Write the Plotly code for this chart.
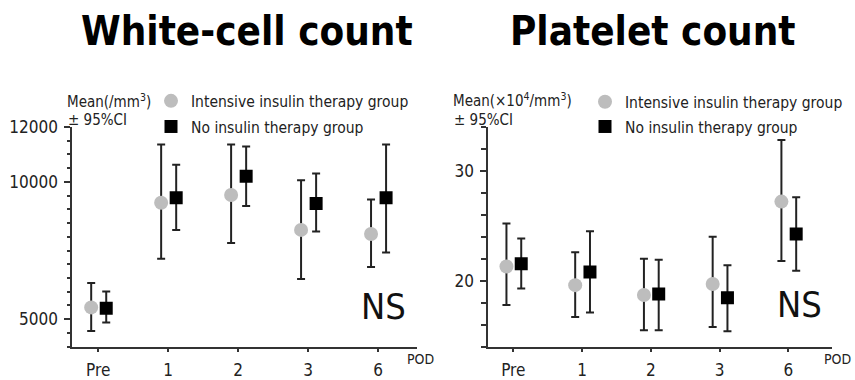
import plotly.graph_objects as go

# ---------------- data ----------------
categories = ["Pre", "1", "2", "3", "6"]
series_names = ["Intensive insulin therapy group", "No insulin therapy group"]

# White-cell count (/mm3): mean, upper 95%CI, lower 95%CI
wbc_int_mean = [5430, 9240, 9520, 8250, 8100]
wbc_int_up = [6320, 11360, 11360, 10060, 9360]
wbc_int_lo = [4570, 7200, 7770, 6460, 6900]
wbc_no_mean = [5400, 9420, 10200, 9210, 9420]
wbc_no_up = [6010, 10620, 11290, 10300, 11360]
wbc_no_lo = [4880, 8250, 9120, 8190, 7430]

# Platelet count (x10^4/mm3)
plt_int_mean = [21.3, 19.6, 18.7, 19.7, 27.2]
plt_int_up = [25.2, 22.6, 22.0, 24.0, 32.8]
plt_int_lo = [17.8, 16.7, 15.5, 15.8, 21.8]
plt_no_mean = [21.55, 20.8, 18.8, 18.45, 24.25]
plt_no_up = [23.85, 24.5, 21.9, 21.4, 27.6]
plt_no_lo = [19.3, 17.1, 15.5, 15.4, 20.9]

wbc_tickvals = [5000, 10000, 12000]
wbc_ticktext = ["5000", "10000", "12000"]
plt_tickvals = [20, 30]
plt_ticktext = ["20", "30"]

# ---------------- style ----------------
FONT = "DejaVu Sans Condensed, DejaVu Sans, sans-serif"
GREY = "#bdbdbd"
BLACK = "#000000"
BAR = "#222222"
AXIS = "#333333"
OFF_INT, OFF_NO = -0.10, 0.115

fig = go.Figure()


def add_pair(xa, ya, im, iu, il, nm, nu, nl, leg_a, leg_b):
    idx = list(range(len(categories)))
    fig.add_trace(go.Scatter(
        x=[i + OFF_INT for i in idx], y=im, mode="markers", name=series_names[0],
        xaxis=xa, yaxis=ya, legend=leg_a,
        marker=dict(symbol="circle", size=14, color=GREY),
        error_y=dict(type="data", symmetric=False,
                     array=[u - m for u, m in zip(iu, im)],
                     arrayminus=[m - l for m, l in zip(im, il)],
                     color=BAR, thickness=2, width=4)))
    fig.add_trace(go.Scatter(
        x=[i + OFF_NO for i in idx], y=nm, mode="markers", name=series_names[1],
        xaxis=xa, yaxis=ya, legend=leg_b,
        marker=dict(symbol="square", size=13, color=BLACK),
        error_y=dict(type="data", symmetric=False,
                     array=[u - m for u, m in zip(nu, nm)],
                     arrayminus=[m - l for m, l in zip(nm, nl)],
                     color=BAR, thickness=2, width=4)))


add_pair("x", "y", wbc_int_mean, wbc_int_up, wbc_int_lo,
         wbc_no_mean, wbc_no_up, wbc_no_lo, "legend", "legend2")
add_pair("x2", "y2", plt_int_mean, plt_int_up, plt_int_lo,
         plt_no_mean, plt_no_up, plt_no_lo, "legend3", "legend4")

W, H = 855, 380
ytop, ybot = 1 - 121.7 / H, 1 - 350.5 / H

xaxis_common = dict(
    tickmode="array", tickvals=list(range(len(categories))), ticktext=categories,
    showline=True, linecolor=AXIS, linewidth=2, ticks="outside", ticklen=3,
    tickwidth=1.5, tickcolor=AXIS, showgrid=False, zeroline=False,
    tickfont=dict(family=FONT, size=17, color="#222"), ticklabelstandoff=4,
    fixedrange=True)
yaxis_common = dict(
    tickmode="array", showline=True, linecolor=AXIS, linewidth=2,
    ticks="outside", ticklen=6, tickwidth=1.5, tickcolor=AXIS,
    showgrid=False, zeroline=False,
    tickfont=dict(family=FONT, size=17, color="#222"), ticklabelstandoff=3,
    fixedrange=True)


def leg(x, y):
    return dict(x=x / W, y=1 - y / H, xanchor="left", yanchor="middle",
                bgcolor="rgba(0,0,0,0)", borderwidth=0,
                font=dict(family=FONT, size=15.5, color="#222"),
                itemwidth=30, tracegroupgap=0)


LEG_L, LEG_R = 151, 585
fig.update_layout(
    width=W, height=H, margin=dict(l=0, r=0, t=0, b=0),
    paper_bgcolor="white", plot_bgcolor="white",
    xaxis=dict(domain=[72.3 / W, 417 / W], range=[-0.37, 4.557], anchor="y", **xaxis_common),
    yaxis=dict(domain=[ybot, ytop], range=[4000, 12000], anchor="x",
               tickvals=wbc_tickvals, ticktext=wbc_ticktext,
               minor=dict(dtick=500, tick0=0, ticks="outside", ticklen=3.5,
                          tickwidth=1.5, tickcolor=AXIS),
               **yaxis_common),
    xaxis2=dict(domain=[488.3 / W, 832 / W], range=[-0.364, 4.636], anchor="y2", **xaxis_common),
    yaxis2=dict(domain=[ybot, ytop], range=[14, 34], anchor="x2",
                tickvals=plt_tickvals, ticktext=plt_ticktext,
                minor=dict(dtick=2, tick0=0, ticks="outside", ticklen=5,
                           tickwidth=1.5, tickcolor=AXIS),
                **yaxis_common),
    legend=leg(LEG_L, 95),
    legend2=leg(LEG_L, 121.7),
    legend3=leg(LEG_R, 96),
    legend4=leg(LEG_R, 121.7),
    showlegend=True,
)

ann = []
# titles
ann.append(dict(text="<b>White-cell count</b>", x=247 / W, y=1 - 22 / H,
                font=dict(family=FONT, size=40, color="#000")))
ann.append(dict(text="<b>Platelet count</b>", x=653 / W, y=1 - 22 / H,
                font=dict(family=FONT, size=40, color="#000")))
# axis unit labels
ann.append(dict(text="Mean(/mm<sup>3</sup>)", x=65 / W, y=1 - 95 / H, xanchor="left",
                font=dict(family=FONT, size=15, color="#222")))
ann.append(dict(text="± 95%CI", x=66 / W, y=1 - 115 / H, xanchor="left",
                font=dict(family=FONT, size=15, color="#222")))
ann.append(dict(text="Mean(×10<sup>4</sup>/mm<sup>3</sup>)", x=451 / W, y=1 - 94 / H,
                xanchor="left", font=dict(family=FONT, size=15, color="#222")))
ann.append(dict(text="± 95%CI", x=452 / W, y=1 - 114 / H, xanchor="left",
                font=dict(family=FONT, size=15, color="#222")))
# NS
ann.append(dict(text="NS", x=383 / W, y=1 - 309 / H,
                font=dict(family=FONT, size=36, color="#111")))
ann.append(dict(text="NS", x=799 / W, y=1 - 307 / H,
                font=dict(family=FONT, size=36, color="#111")))
# POD
ann.append(dict(text="POD", x=405 / W, y=1 - 363 / H, xanchor="left",
                font=dict(family=FONT, size=14, color="#222")))
ann.append(dict(text="POD", x=822 / W, y=1 - 363 / H, xanchor="left",
                font=dict(family=FONT, size=14, color="#222")))

for a in ann:
    a.update(xref="paper", yref="paper", showarrow=False)
    a.setdefault("xanchor", "center")
    a.setdefault("yanchor", "middle")
fig.update_layout(annotations=ann)

fig.write_html("out.html", config={"displayModeBar": False},
               post_script="document.body.style.margin='0';document.body.style.overflow='hidden';")
